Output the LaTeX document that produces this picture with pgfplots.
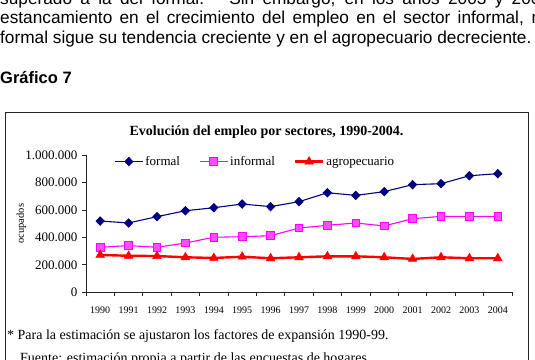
\documentclass[border=0pt]{standalone}
\usepackage{pgfplots}
\pgfplotsset{compat=1.18}
\usepackage{fontspec}
\setmainfont{Liberation Serif}
\newfontfamily\arial{Liberation Sans}
\definecolor{navy}{RGB}{0,0,128}
\definecolor{mag}{RGB}{255,0,255}
\definecolor{rojo}{RGB}{255,0,0}
\begin{document}
\begin{tikzpicture}
\begin{axis}[
  at={(86pt,66.7pt)}, anchor=south west, scale only axis,
  width=426pt, height=137.3pt,
  xmin=-0.5, xmax=14.5, ymin=0, ymax=1000000,
  axis x line*=bottom, axis y line*=left,
  axis line style={-, line width=0.9pt, black!85},
  tick align=outside, major tick length=4pt,
  tick style={line width=0.8pt, black!85},
  scaled y ticks=false,
  ytick={0,200000,400000,600000,800000,1000000},
  yticklabels={0,200.000,400.000,600.000,800.000,1.000.000},
  yticklabel style={font=\fontsize{13}{15}\selectfont, xshift=-1pt},
  xtick={-0.5,0.5,...,14.5}, xticklabels={},
  extra x ticks={0,1,2,3,4,5,6,7,8,9,10,11,12,13,14},
  extra x tick labels={1990,1991,1992,1993,1994,1995,1996,1997,1998,1999,2000,2001,2002,2003,2004},
  extra x tick style={major tick length=0pt, xticklabel style={font=\fontsize{10}{12}\selectfont, yshift=-11pt}},
  ylabel={ocupados},
  every axis y label/.style={at={(rel axis cs:-0.152,0.5)}, anchor=center, rotate=90, font=\fontsize{10.5}{12}\selectfont},
  legend columns=3,
  legend style={at={(rel axis cs:0.066,0.952)}, anchor=west, draw=none, fill=none,
    font=\fontsize{13}{15}\selectfont, inner sep=0pt,
    /tikz/every even column/.append style={column sep=17pt}},
  legend image code/.code={\draw[mark repeat=2,mark phase=2,#1] plot coordinates {(0pt,0pt) (14pt,0pt) (28pt,0pt)};},
  clip=false,
]
\addplot[navy, line width=1.1pt, mark=diamond*, mark size=4pt, mark options={xscale=1.3, fill=navy, solid}]
 coordinates {(0,519000)(1,505000)(2,551000)(3,594000)(4,616000)(5,643000)(6,624000)(7,660000)(8,725000)(9,706000)(10,733000)(11,784000)(12,791000)(13,849000)(14,864000)};
\addlegendentry{formal}
\addplot[mag, line width=1.1pt, mark=square*, mark size=3.8pt, mark options={fill=mag!70!white, draw=mag, line width=1pt}]
 coordinates {(0,328000)(1,340000)(2,328000)(3,359000)(4,401000)(5,405000)(6,412000)(7,468000)(8,488000)(9,505000)(10,483000)(11,536000)(12,553000)(13,553000)(14,553000)};
\addlegendentry{informal}
\addplot[rojo, line width=2.4pt, mark=triangle*, mark size=5pt, mark options={fill=rojo, line width=0.5pt}]
 coordinates {(0,272000)(1,266000)(2,264000)(3,255000)(4,250000)(5,259000)(6,248000)(7,255000)(8,262000)(9,262000)(10,255000)(11,243000)(12,255000)(13,248000)(14,248000)};
\addlegendentry{agropecuario}
\end{axis}
% chart frame and title
\draw[line width=1pt, black!85] (5pt,-20pt) rectangle (528pt,246pt);
\node[anchor=base, inner sep=0pt, font=\bfseries\fontsize{14}{16}\selectfont] at (266.5pt,223pt)
  {Evolución del empleo por sectores, 1990-2004.};
% notes
\node[anchor=base west, inner sep=0pt, font=\fontsize{14}{16}\selectfont] at (7pt,19.5pt)
  {* Para la estimación se ajustaron los factores de expansión 1990-99.};
\node[anchor=base west, inner sep=0pt, font=\fontsize{14}{16}\selectfont] at (20pt,-3.5pt)
  {Fuente: estimación propia a partir de las encuestas de hogares.};
% body text above the chart
\node[anchor=base west, inner sep=0pt, font=\arial\fontsize{17.25}{19.5}\selectfont] at (0pt,354.5pt)
  {\makebox[550pt][s]{superado a la del formal. \ Sin embargo, en los años 2003 y 2004}};
\node[anchor=base west, inner sep=0pt, font=\arial\fontsize{17.25}{19.5}\selectfont] at (0pt,335pt)
  {\makebox[546pt][s]{estancamiento en el crecimiento del empleo en el sector informal, m}};
\node[anchor=base west, inner sep=0pt, font=\arial\fontsize{17.25}{19.5}\selectfont] at (0pt,315.5pt)
  {formal sigue su tendencia creciente y en el agropecuario decreciente.};
\node[anchor=base west, inner sep=0pt, font=\arial\bfseries\fontsize{16.5}{19.5}\selectfont] at (0pt,275.7pt)
  {Gráfico 7};
\pgfresetboundingbox
\useasboundingbox (0pt,0pt) rectangle (535pt,359pt);
\end{tikzpicture}
\end{document}
